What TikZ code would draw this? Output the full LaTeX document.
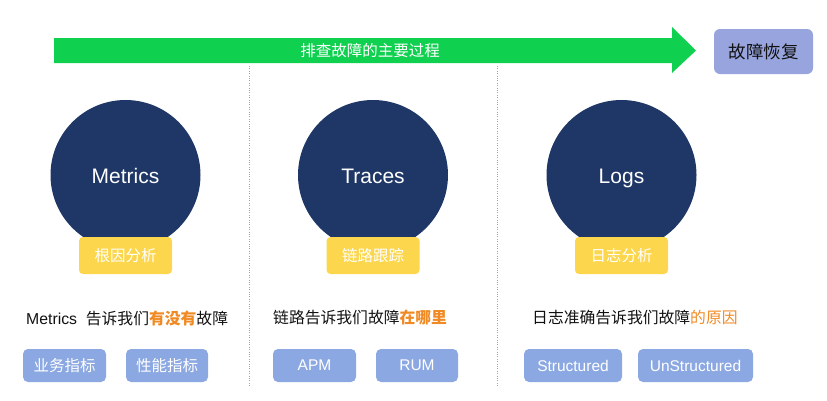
\documentclass[tikz,border=0pt]{standalone}
\usepackage{fontspec}
\setmainfont{Liberation Sans}
\newfontfamily\cjk{Noto Sans CJK SC}
\usetikzlibrary{positioning}
\definecolor{arrowgreen}{HTML}{0FD14F}
\definecolor{navy}{HTML}{1E3766}
\definecolor{ybox}{HTML}{FCD64C}
\definecolor{bbox}{HTML}{8BA8E2}
\definecolor{lav}{HTML}{97A4DD}
\definecolor{orangetxt}{HTML}{F08A24}
\definecolor{dark}{HTML}{111111}
\tikzset{
  bigcircle/.style={circle, fill=navy, minimum size=150pt, inner sep=0pt, text=white, text height=16pt, text depth=0pt, font=\fontsize{21}{21}\selectfont},
  tagbox/.style={rounded corners=4pt, fill=ybox, minimum width=93pt, minimum height=37pt, inner sep=0pt, text=white, font=\cjk\fontsize{15.5}{16}\selectfont},
  subbox/.style={rounded corners=5pt, fill=bbox, minimum height=33pt, inner sep=0pt, text=white, font=\fontsize{15.5}{16}\selectfont},
  desc/.style={anchor=west, inner sep=0pt, text=dark, font=\fontsize{15.8}{16}\selectfont},
  sep/.style={draw=gray!70, line width=0.8pt, dash pattern=on 0.8pt off 1.6pt}
}
\begin{document}
\begin{tikzpicture}[x=1pt,y=-1pt]
\useasboundingbox (0,0) rectangle (827,400);
% main arrow
\fill[arrowgreen] (54,38) -- (672,38) -- (672,27) -- (696,50.5) -- (672,73) -- (672,63) -- (54,63) -- cycle;
\node[text=white, font=\cjk\fontsize{15.5}{16}\selectfont, inner sep=0pt] (proc) at (370,50.5) {排查故障的主要过程};
\node[rounded corners=6pt, fill=lav, minimum width=99pt, minimum height=45pt, inner sep=0pt, text=dark, font=\cjk\fontsize{17.5}{18}\selectfont] (recover) at (763.5,51.5) {故障恢复};
% separators
\coordinate (s1t) at (249,66); \coordinate (s1b) at (249,386);
\coordinate (s2t) at (497,66); \coordinate (s2b) at (497,386);
\draw[sep] (s1t) -- (s1b);
\draw[sep] (s2t) -- (s2b);
% circles
\node[bigcircle] (metrics) at (125.5,175) {Metrics};
\node[bigcircle] (traces) at (373,175) {Traces};
\node[bigcircle] (logs) at (621.5,175) {Logs};
% yellow tags
\node[tagbox] (t1) at (125.5,255.5) {根因分析};
\node[tagbox] (t2) at (373,255.5) {链路跟踪};
\node[tagbox] (t3) at (621.5,255.5) {日志分析};
% descriptions
\node[desc] (d1) at (26,318) {Metrics\ \ {\cjk 告诉我们{\bfseries\color{orangetxt}有没有}故障}};
\node[desc] (d2) at (273,318) {\cjk 链路告诉我们故障{\bfseries\color{orangetxt}在哪里}};
\node[desc] (d3) at (532,318) {\cjk 日志准确告诉我们故障{\color{orangetxt}的原因}};
% sub boxes
\node[subbox, minimum width=83pt, font=\cjk\fontsize{15.5}{16}\selectfont] (b1) at (64.5,365.5) {业务指标};
\node[subbox, minimum width=82pt, font=\cjk\fontsize{15.5}{16}\selectfont] (b2) at (167,365.5) {性能指标};
\node[subbox, minimum width=83pt] (b3) at (314.5,365.5) {APM};
\node[subbox, minimum width=82pt] (b4) at (417,365.5) {RUM};
\node[subbox, minimum width=98pt] (b5) at (573,365.5) {Structured};
\node[subbox, minimum width=115pt] (b6) at (695.5,365.5) {UnStructured};
\end{tikzpicture}
\end{document}
